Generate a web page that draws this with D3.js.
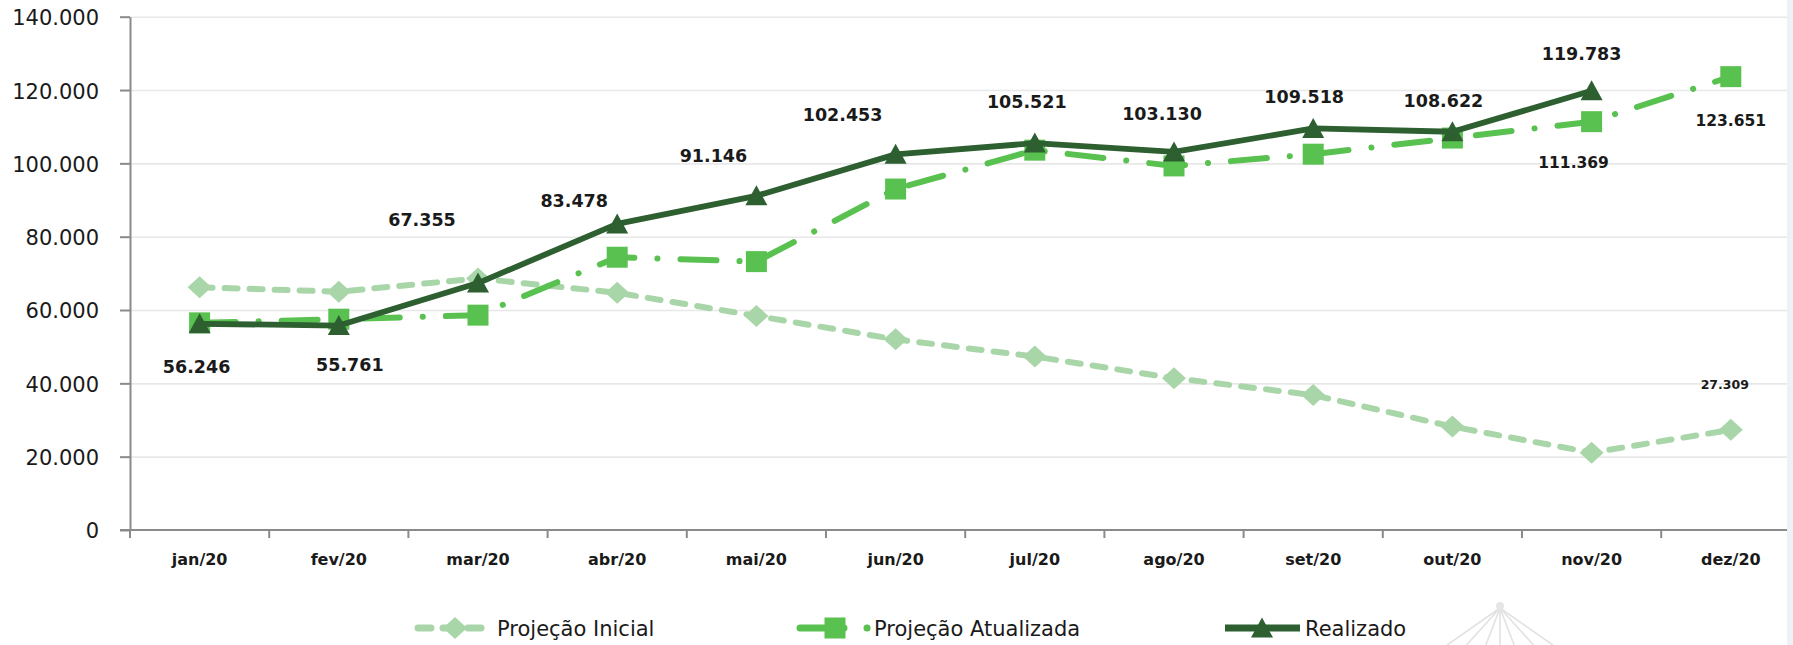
<!DOCTYPE html>
<html>
<head>
<meta charset="utf-8">
<script src="https://cdn.jsdelivr.net/npm/d3@7"></script>
<style>
  html, body { margin: 0; padding: 0; background: #ffffff; overflow: hidden; }
  svg { display: block; }
  text { font-family: "DejaVu Sans", Verdana, sans-serif; }
</style>
</head>
<body>
<svg id="chart" width="1793" height="645"></svg>
<script>
// ---- data ----
const months = ["jan/20", "fev/20", "mar/20", "abr/20", "mai/20", "jun/20",
                "jul/20", "ago/20", "set/20", "out/20", "nov/20", "dez/20"];
const projecaoInicial    = [66200, 65000, 68600, 64700, 58400, 52000, 47300, 41400, 36800, 28200, 21100, 27309];
const projecaoAtualizada = [56500, 57500, 58600, 74400, 73200, 93000, 103600, 99300, 102500, 106900, 111369, 123651];
const realizado          = [56246, 55761, 67355, 83478, 91146, 102453, 105521, 103130, 109518, 108622, 119783, null];
const yTickValues = [0, 20000, 40000, 60000, 80000, 100000, 120000, 140000];
const seriesNames = ["Projeção Inicial", "Projeção Atualizada", "Realizado"];

// months whose value is printed next to the point
const inicialLabelIdx = [11];
const atualizadaLabelIdx = [10, 11];

// ---- layout ----
const W = 1793, H = 645;
const plotLeft = 130, plotRight = 1787, plotTop = 16.7, plotBottom = 530;
const bandStep = 139.2;
const colors = { inicial: "#a9d6a9", atualizada: "#59c14f", realizado: "#2d5f31" };

// label placement relative to each point (dx, dy)
const realizadoLabelOffset = [[-3, 43], [11, 39], [-56, -63], [-43, -23], [-43, -40], [-53, -40],
                              [-8, -41], [-12, -38], [-9, -32], [-9, -31], [-10, -37], [0, 0]];
const atualizadaLabelOffset = { 10: [-18, 41], 11: [0, 44] };
const inicialLabelOffset = { 11: [-6, -45] };

const fmt = d3.formatLocale({ decimal: ",", thousands: ".", grouping: [3], currency: ["R$", ""] }).format(",d");

const svg = d3.select("#chart");

const x = d3.scaleBand().domain(months).range([plotLeft, plotLeft + bandStep * months.length]).padding(0);
const cx = m => x(m) + x.bandwidth() / 2;
const y = d3.scaleLinear().domain([0, 140000]).range([plotBottom, plotTop]);

// gridlines
svg.append("g")
  .attr("transform", `translate(${plotLeft},0)`)
  .call(d3.axisLeft(y).tickValues(yTickValues.filter(v => v > 0)).tickSize(-(plotRight - plotLeft)).tickFormat(""))
  .call(g => g.select(".domain").remove())
  .call(g => g.selectAll("line").attr("stroke", "#e8e8e8").attr("stroke-width", 1.6));

// y axis
svg.append("g")
  .attr("transform", `translate(${plotLeft},0)`)
  .call(d3.axisLeft(y).tickValues(yTickValues).tickSize(10).tickSizeOuter(0).tickPadding(21).tickFormat(fmt))
  .call(g => g.select(".domain").attr("stroke", "#8a8a8a").attr("stroke-width", 2))
  .call(g => g.selectAll(".tick line").attr("stroke", "#8a8a8a").attr("stroke-width", 2))
  .call(g => g.selectAll(".tick text")
    .attr("font-family", "DejaVu Sans, sans-serif")
    .attr("font-size", 21).attr("fill", "#1a1a1a").attr("dy", "0.38em"));

// x axis: labels centred in each month, tick marks on the boundaries
const xAxis = svg.append("g").attr("transform", `translate(0,${plotBottom})`);
xAxis.call(d3.axisBottom(x).tickSize(0).tickPadding(24))
  .call(g => g.select(".domain").remove())
  .call(g => g.selectAll(".tick text")
    .attr("font-family", "DejaVu Sans, sans-serif")
    .attr("font-size", 16).attr("font-weight", "bold").attr("fill", "#1a1a1a"));
xAxis.append("line")
  .attr("x1", plotLeft - 10).attr("x2", plotRight).attr("y1", 0).attr("y2", 0)
  .attr("stroke", "#8a8a8a").attr("stroke-width", 2);
xAxis.selectAll("line.bound")
  .data(d3.range(months.length + 1).map(i => plotLeft + i * bandStep).filter(v => v < plotRight))
  .join("line").attr("class", "bound")
  .attr("x1", d => d).attr("x2", d => d).attr("y1", 0).attr("y2", 8)
  .attr("stroke", "#8a8a8a").attr("stroke-width", 2);

// marker shapes
const diamond = (w, h) => `M0,${-h / 2}L${w / 2},0L0,${h / 2}L${-w / 2},0Z`;
const square = s => `M${-s / 2},${-s / 2}h${s}v${s}h${-s}Z`;
const triangle = (w, h) => `M0,${-h / 2 - 1}L${w / 2},${h / 2}L${-w / 2},${h / 2}Z`;

const series = [
  { name: seriesNames[0], values: projecaoInicial, color: colors.inicial, width: 6,
    dash: "13 12", legendDash: "13 12", shape: diamond(24, 22) },
  { name: seriesNames[1], values: projecaoAtualizada, color: colors.atualizada, width: 6,
    dash: "36 23 0.1 23", legendDash: "44 23 0.1 40", shape: square(21) },
  { name: seriesNames[2], values: realizado, color: colors.realizado, width: 5.8,
    dash: null, legendDash: null, shape: triangle(22, 19) }
];

const line = d3.line().defined(d => d.v != null).x(d => cx(d.m)).y(d => y(d.v));

series.forEach(s => {
  const pts = months.map((m, i) => ({ m, v: s.values[i] }));
  const g = svg.append("g");
  g.append("path").datum(pts)
    .attr("d", line).attr("fill", "none")
    .attr("stroke", s.color).attr("stroke-width", s.width)
    .attr("stroke-linecap", "round").attr("stroke-linejoin", "round")
    .attr("stroke-dasharray", s.dash);
  g.selectAll("path.mk").data(pts.filter(d => d.v != null)).join("path").attr("class", "mk")
    .attr("d", s.shape)
    .attr("transform", d => `translate(${cx(d.m)},${y(d.v)})`)
    .attr("fill", s.color);
});

// value labels
const labels = svg.append("g").attr("fill", "#1a1a1a").attr("text-anchor", "middle");
realizado.forEach((v, i) => {
  if (v == null) return;
  const [dx, dy] = realizadoLabelOffset[i];
  labels.append("text")
    .attr("x", cx(months[i]) + dx).attr("y", y(v) + dy).attr("dy", "0.36em")
    .attr("font-size", 17.5).attr("font-weight", "bold").text(fmt(v));
});
atualizadaLabelIdx.forEach(i => {
  const v = projecaoAtualizada[i];
  const [dx, dy] = atualizadaLabelOffset[i];
  labels.append("text")
    .attr("x", cx(months[i]) + dx).attr("y", y(v) + dy).attr("dy", "0.36em")
    .attr("font-size", 15.5).attr("font-weight", "bold").text(fmt(v));
});
inicialLabelIdx.forEach(i => {
  const v = projecaoInicial[i];
  const [dx, dy] = inicialLabelOffset[i];
  labels.append("text")
    .attr("x", cx(months[i]) + dx).attr("y", y(v) + dy).attr("dy", "0.36em")
    .attr("font-size", 12.5).attr("font-weight", "bold").text(fmt(v));
});

// legend
const legendY = 628;
const legendItems = [
  { s: series[0], x1: 418, x2: 486, mx: 455, tx: 497 },
  { s: series[1], x1: 800, x2: 868, mx: 835, tx: 874 },
  { s: series[2], x1: 1225, x2: 1300, mx: 1262, tx: 1305 }
];
const lg = svg.append("g");
legendItems.forEach(it => {
  lg.append("line")
    .attr("x1", it.x1).attr("x2", it.x2).attr("y1", legendY).attr("y2", legendY)
    .attr("stroke", it.s.color).attr("stroke-width", it.s.width + 1)
    .attr("stroke-linecap", it.s.legendDash ? "round" : "butt")
    .attr("stroke-dasharray", it.s.legendDash);
  lg.append("path").attr("d", it.s.shape)
    .attr("transform", `translate(${it.mx},${legendY})`).attr("fill", it.s.color);
  lg.append("text").attr("x", it.tx).attr("y", legendY + 8)
    .attr("font-size", 21).attr("fill", "#1a1a1a").text(it.s.name);
});

// faint emblem near the bottom edge
const emblem = svg.append("g").attr("stroke", "#e2e2e2").attr("stroke-width", 1.6).attr("fill", "none");
[1440, 1462, 1484, 1500, 1516, 1538, 1560].forEach(bx => {
  emblem.append("line").attr("x1", 1500).attr("y1", 608).attr("x2", bx).attr("y2", 650);
});
emblem.append("circle").attr("cx", 1500).attr("cy", 606).attr("r", 4).attr("fill", "#e6e6e6").attr("stroke", "none");

// right edge strip
svg.append("rect").attr("x", plotRight).attr("y", 0).attr("width", W - plotRight).attr("height", H).attr("fill", "#eef2f8");
</script>
</body>
</html>
